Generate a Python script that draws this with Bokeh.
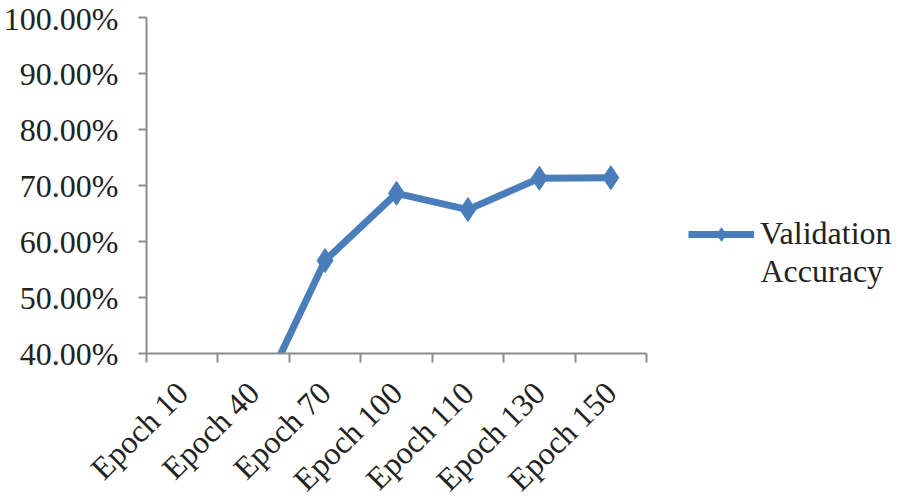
from math import pi
from bokeh.plotting import figure
from bokeh.models import Range1d, FixedTicker, NumeralTickFormatter, Legend, LegendItem, Label
from bokeh.embed import file_html
from bokeh.resources import INLINE

categories = ["Epoch 10", "Epoch 40", "Epoch 70", "Epoch 100", "Epoch 110", "Epoch 130", "Epoch 150"]
accuracy = [0.20, 0.297, 0.566, 0.686, 0.657, 0.713, 0.714]
y_ticks = [0.4, 0.5, 0.6, 0.7, 0.8, 0.9, 1.0]
series_name = ["Validation", "Accuracy"]

n = len(categories)
xs = [i + 0.5 for i in range(n)]
blue = "#4a7ebb"
axis_gray = "#8c8c8c"
font = "Liberation Serif"
fsize = "32px"

cat_px = 500 / n          # pixel width of one category slot
frame_w = 746
frame_h = 336

p = figure(frame_width=frame_w, frame_height=frame_h, output_backend="svg", toolbar_location=None,
           x_range=Range1d(0, frame_w / cat_px), y_range=Range1d(0.4, 1.0),
           min_border_left=146, min_border_top=17, min_border_bottom=10, min_border_right=0)
p.outline_line_color = None
p.grid.visible = False

line = p.line(xs, accuracy, line_color=blue, line_width=7)
pts = p.scatter(xs, accuracy, marker="diamond", size=24, fill_color=blue, line_color=blue)

xa = p.xaxis[0]
xa.bounds = (0, n)
xa.ticker = FixedTicker(ticks=xs, minor_ticks=list(range(n + 1)))
xa.major_label_overrides = {x: c for x, c in zip(xs, categories)}
xa.major_tick_out = 0
xa.major_tick_in = 0
xa.minor_tick_out = 9
xa.minor_tick_in = 0
xa.minor_tick_line_color = axis_gray
xa.minor_tick_line_width = 2
xa.major_label_orientation = pi / 4
xa.major_label_standoff = 25

ya = p.yaxis[0]
ya.ticker = FixedTicker(ticks=y_ticks, minor_ticks=[])
ya.formatter = NumeralTickFormatter(format="0.00%")
ya.major_tick_out = 8
ya.major_tick_in = 0
ya.major_label_standoff = 20

for ax in (xa, ya):
    ax.axis_line_color = axis_gray
    ax.axis_line_width = 2
    ax.major_tick_line_color = axis_gray
    ax.major_tick_line_width = 2
    ax.major_label_text_font = font
    ax.major_label_text_font_size = fsize
    ax.major_label_text_color = "#222222"

legend = Legend(items=[LegendItem(label=series_name[0], renderers=[line, pts])],
                location=(542, 101), glyph_width=66, glyph_height=34,
                label_text_font=font, label_text_font_size=fsize, label_text_color="#222222",
                border_line_color=None, background_fill_alpha=0, padding=0, margin=0,
                label_standoff=6, label_height=34)
p.add_layout(legend)

p.add_layout(Label(x=614, y=83, x_units="screen", y_units="screen", text=series_name[1],
                   text_font=font, text_font_size=fsize, text_color="#222222",
                   text_baseline="alphabetic"))

open("out.html", "w").write(file_html(p, INLINE))
